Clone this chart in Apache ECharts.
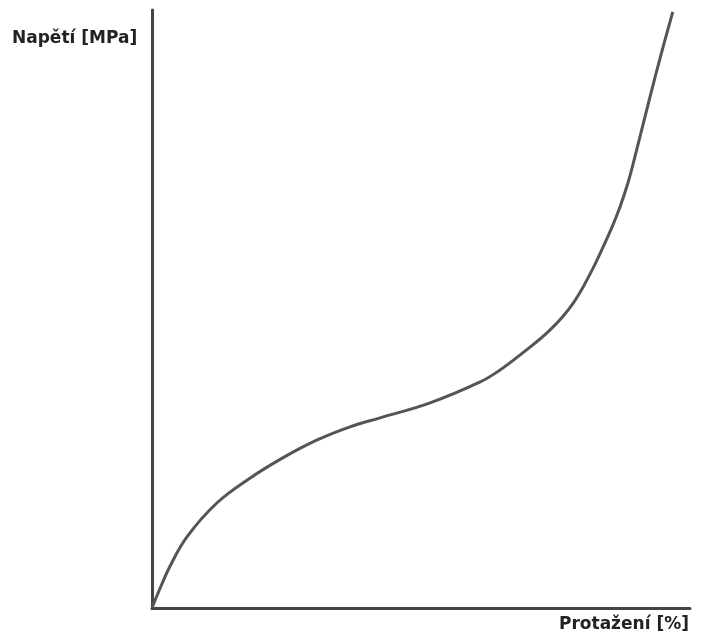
<!DOCTYPE html>
<html>
<head>
<meta charset="utf-8">
<script src="https://cdn.jsdelivr.net/npm/echarts@6/dist/echarts.min.js"></script>
<style>
  html, body { margin: 0; padding: 0; background: #fff; }
  #chart { width: 701px; height: 641px; }
</style>
</head>
<body>
<div id="chart"></div>
<script>
// protažení (% of axis length) and napětí (% of axis height)
const strain = [0, 1.5, 3.3, 6.5, 12.1, 18.2, 24.3, 30.7, 36.8, 42.4, 51.7, 61.0, 64.7, 68.4, 74.0, 78.3, 81.8, 83.6, 85.5, 87.0, 88.5, 90.0, 92.4, 94.6, 96.8]
const stress = [0, 3.3, 6.9, 11.9, 17.6, 21.7, 25.1, 28.1, 30.3, 31.8, 34.3, 37.8, 39.8, 42.3, 46.5, 51.0, 56.5, 59.9, 63.7, 67.1, 71.2, 76.3, 84.9, 92.5, 99.7]
const yLabel = 'Napětí [MPa]'
const xLabel = 'Protažení [%]'

const chart = echarts.init(document.getElementById('chart'))
const axisLine = { show: true, lineStyle: { color: '#444', width: 3 } }
const labelFont = 'bold 17px "DejaVu Sans", sans-serif'

chart.setOption({
  animation: false,
  grid: { left: 152, top: 10, right: 11, bottom: 33 },
  xAxis: {
    type: 'value', min: 0, max: 100,
    axisLine: axisLine, axisTick: { show: false },
    axisLabel: { show: false }, splitLine: { show: false }
  },
  yAxis: {
    type: 'value', min: 0, max: 100,
    axisLine: axisLine, axisTick: { show: false },
    axisLabel: { show: false }, splitLine: { show: false }
  },
  graphic: [
    { type: 'text', left: 12, top: 30, style: { text: yLabel, font: labelFont, fill: '#222' } },
    { type: 'text', left: 559, top: 616, style: { text: xLabel, font: labelFont, fill: '#222' } }
  ],
  series: [{
    type: 'line',
    smooth: 0.4,
    symbol: 'none',
    lineStyle: { color: '#555', width: 3 },
    data: strain.map((x, i) => [x, stress[i]])
  }]
})
</script>
</body>
</html>
